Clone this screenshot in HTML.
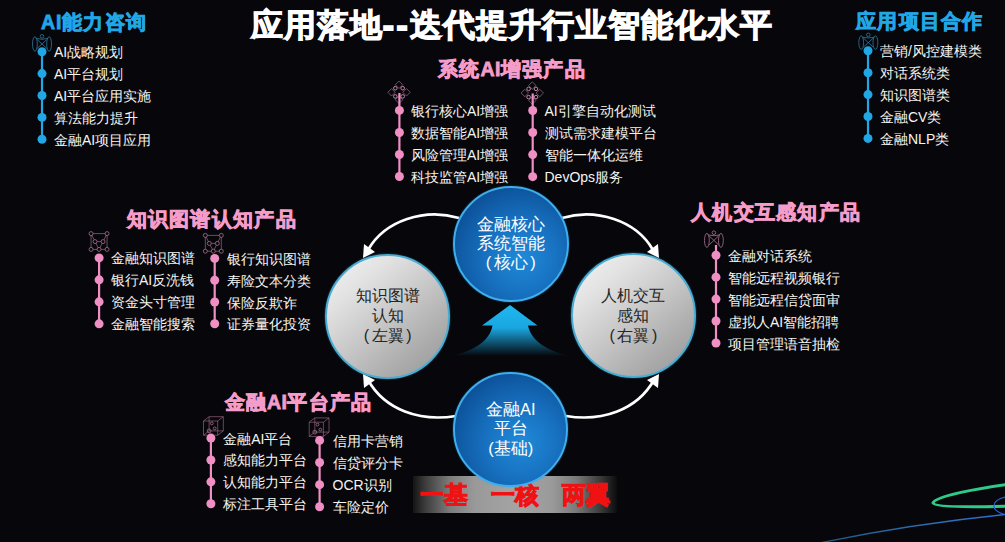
<!DOCTYPE html>
<html><head><meta charset="utf-8"><style>
html,body{margin:0;padding:0;width:1005px;height:542px;overflow:hidden;background:#07060b;font-family:"Liberation Sans", sans-serif}
.t{position:absolute;font-weight:bold;white-space:nowrap;line-height:1.2;-webkit-text-stroke:0.8px currentColor}
.it{position:absolute;color:#f5f5f0;white-space:nowrap;line-height:18px;font-weight:500}
.ln,.dot{position:absolute}
.dot{border-radius:50%}
.ic{position:absolute}
.c{position:absolute;border-radius:50%;box-sizing:border-box;display:flex;align-items:center;justify-content:center;text-align:center}
.bl{border:2px solid #3eaeec;box-shadow:0 0 2px rgba(60,170,235,0.5);background:radial-gradient(circle at 60% 62%,#1f8ad8 0%,#1873c2 35%,#0f58a2 68%,#0a4689 88%,#0b4a90 95%,#1560aa 100%)}
.gr{border:2px solid #4aaed4;box-shadow:0 0 2px rgba(70,170,210,0.6);background:radial-gradient(circle at 50% 50%,rgba(0,0,0,0) 80%,rgba(0,0,0,0.12) 100%),linear-gradient(140deg,#f4f4f4 0%,#e2e2e2 25%,#c8c8c8 50%,#b0b0b0 72%,#959595 100%)}
.ct{font-size:16.5px;line-height:19.3px}
.pp{margin:0 2.5px}
.bl .ct{color:#fff}
.gr .ct{color:#262626;font-size:16px;line-height:20px;font-weight:350}
</style></head><body>
<div class="t" style="left:251px;top:6px;font-size:32px;letter-spacing:1.0px;color:#fff;-webkit-text-stroke:1.1px #fff">应用落地<span style="letter-spacing:3px;-webkit-text-stroke:2.2px #fff">--</span>迭代提升行业智能化水平</div>
<div class="t" style="left:41px;top:10.5px;font-size:19.5px;letter-spacing:1.3px;color:#21a6e6"><span style="letter-spacing:0.8px">AI</span>能力咨询</div>
<div class="it" style="left:54px;top:43.2px;font-size:14px">AI战略规划</div>
<div class="it" style="left:54px;top:65.1px;font-size:14px">AI平台规划</div>
<div class="it" style="left:54px;top:87.0px;font-size:14px">AI平台应用实施</div>
<div class="it" style="left:54px;top:108.89999999999999px;font-size:14px">算法能力提升</div>
<div class="it" style="left:54px;top:130.8px;font-size:14px">金融AI项目应用</div>
<div class="t" style="left:856px;top:9.5px;font-size:19.5px;letter-spacing:1.3px;color:#21a6e6">应用项目合作</div>
<div class="it" style="left:880px;top:42.3px;font-size:14px">营销/风控建模类</div>
<div class="it" style="left:880px;top:64.19999999999999px;font-size:14px">对话系统类</div>
<div class="it" style="left:880px;top:86.1px;font-size:14px">知识图谱类</div>
<div class="it" style="left:880px;top:107.99999999999999px;font-size:14px">金融CV类</div>
<div class="it" style="left:880px;top:129.89999999999998px;font-size:14px">金融NLP类</div>
<div class="t" style="left:438px;top:58px;font-size:19.5px;letter-spacing:1.3px;color:#f49cca">系统<span style="letter-spacing:0.3px">AI</span>增强产品</div>
<div class="it" style="left:411px;top:101.9px;font-size:14px">银行核心AI增强</div>
<div class="it" style="left:411px;top:123.95000000000002px;font-size:14px">数据智能AI增强</div>
<div class="it" style="left:411px;top:146.0px;font-size:14px">风险管理AI增强</div>
<div class="it" style="left:411px;top:168.05px;font-size:14px">科技监管AI增强</div>
<div class="it" style="left:544.5px;top:102.0px;font-size:14px">AI引擎自动化测试</div>
<div class="it" style="left:544.5px;top:124.05000000000001px;font-size:14px">测试需求建模平台</div>
<div class="it" style="left:544.5px;top:146.1px;font-size:14px">智能一体化运维</div>
<div class="it" style="left:544.5px;top:168.15px;font-size:14px">DevOps服务</div>
<div class="t" style="left:126.5px;top:207.5px;font-size:19.5px;letter-spacing:1.3px;color:#f49cca">知识图谱认知产品</div>
<div class="it" style="left:111px;top:249.39999999999998px;font-size:14px">金融知识图谱</div>
<div class="it" style="left:111px;top:271.37px;font-size:14px">银行AI反洗钱</div>
<div class="it" style="left:111px;top:293.34px;font-size:14px">资金头寸管理</div>
<div class="it" style="left:111px;top:315.30999999999995px;font-size:14px">金融智能搜索</div>
<div class="it" style="left:226.7px;top:249.89999999999998px;font-size:14px">银行知识图谱</div>
<div class="it" style="left:226.7px;top:271.7px;font-size:14px">寿险文本分类</div>
<div class="it" style="left:226.7px;top:293.5px;font-size:14px">保险反欺诈</div>
<div class="it" style="left:226.7px;top:315.29999999999995px;font-size:14px">证券量化投资</div>
<div class="t" style="left:691px;top:200.5px;font-size:19.5px;letter-spacing:1.3px;color:#f49cca">人机交互感知产品</div>
<div class="it" style="left:728px;top:246.7px;font-size:14px">金融对话系统</div>
<div class="it" style="left:728px;top:268.65px;font-size:14px">智能远程视频银行</div>
<div class="it" style="left:728px;top:290.59999999999997px;font-size:14px">智能远程信贷面审</div>
<div class="it" style="left:728px;top:312.54999999999995px;font-size:14px">虚拟人AI智能招聘</div>
<div class="it" style="left:728px;top:334.5px;font-size:14px">项目管理语音抽检</div>
<div class="t" style="left:224.5px;top:391px;font-size:19.5px;letter-spacing:1.3px;color:#f49cca">金融<span style="letter-spacing:0.3px">AI</span>平台产品</div>
<div class="it" style="left:223.2px;top:429.6px;font-size:14px">金融AI平台</div>
<div class="it" style="left:223.2px;top:451.47px;font-size:14px">感知能力平台</div>
<div class="it" style="left:223.2px;top:473.34000000000003px;font-size:14px">认知能力平台</div>
<div class="it" style="left:223.2px;top:495.21000000000004px;font-size:14px">标注工具平台</div>
<div class="it" style="left:332.5px;top:431.9px;font-size:14px">信用卡营销</div>
<div class="it" style="left:332.5px;top:454.03px;font-size:14px">信贷评分卡</div>
<div class="it" style="left:332.5px;top:476.15999999999997px;font-size:14px">OCR识别</div>
<div class="it" style="left:332.5px;top:498.28999999999996px;font-size:14px">车险定价</div>
<div style="position:absolute;left:413px;top:475.7px;width:204px;height:37px;background:linear-gradient(90deg,#141414 0%,#3c3c3c 6%,#7c7c7c 18%,#999 30%,#a4a4a4 50%,#9a9a9a 68%,#7a7a7a 80%,#3a3a3a 92%,#0c0c0c 100%)"></div>
<div class="t" style="left:420px;top:481.2px;font-size:23.6px;font-weight:900;color:#f01212;white-space:pre;-webkit-text-stroke:1px #f01212;letter-spacing:-0.3px">一基　一核　两翼</div>
<svg style="position:absolute;left:0;top:0" width="1005" height="542" viewBox="0 0 1005 542">
<defs>
<linearGradient id="ag" x1="0" y1="0" x2="0" y2="1">
<stop offset="0" stop-color="#1fb8f0"/><stop offset="0.45" stop-color="#1aa6e0"/><stop offset="1" stop-color="#06070c"/>
</linearGradient>
<linearGradient id="bl" gradientUnits="userSpaceOnUse" x1="810" y1="0" x2="1005" y2="0"><stop offset="0" stop-color="#1d5a7a"/><stop offset="0.6" stop-color="#2a6cb0"/><stop offset="1" stop-color="#2d70d0"/></linearGradient>
</defs>
<g fill="none" stroke="#fff" stroke-width="2.6">
<path d="M459 218 C425 208 385 220 368 250"/>
<path d="M562 218 C596 208 636 220 653 250"/>
<path d="M456 416 C420 422 385 410 368 380"/>
<path d="M566 416 C602 422 637 410 654 380"/>
</g>
<g fill="#fff">
<path d="M363 258 L364 244 L375 252 Z"/>
<path d="M659 258 L658 244 L647 252 Z"/>
<path d="M363 374 L364 388 L375 380 Z"/>
<path d="M659 374 L658 388 L647 380 Z"/>
</g>
<path d="M510 305 L537.5 325.5 L528 325.5 C531 340 545 350 569 356 L452 356 C476 350 490 340 492.5 325.5 L482 325.5 Z" fill="url(#ag)"/>
<g fill="none" stroke-linecap="round">
<path d="M1010 484 C980 488 935 496 933 503 C935 508 980 507 1010 506" stroke="#2fc98a" stroke-width="3"/>
<path d="M810 545 C880 530 950 520 1010 514" stroke="url(#bl)" stroke-width="1.3"/>
<path d="M1006 497 C992 500 988 510 1006 515" stroke="#2a5fd0" stroke-width="1.2"/>
</g>
<g fill="none" stroke="#2c7196" stroke-width="0.85">
<circle cx="42" cy="36.3" r="1.8"/>
<ellipse cx="34.9" cy="44.0" rx="2.4" ry="7.2"/><ellipse cx="49.1" cy="44.0" rx="2.4" ry="7.2"/>
<path d="M35.9 38.3 L42 39.3 L48.1 38.3 M37.1 39.5 L46.9 48.5 M46.9 39.5 L37.1 48.5"/>
</g>
<g fill="none" stroke="#2c7196" stroke-width="0.85">
<circle cx="868.3" cy="34.9" r="1.8"/>
<ellipse cx="861.1999999999999" cy="42.6" rx="2.4" ry="6.8"/><ellipse cx="875.4" cy="42.6" rx="2.4" ry="6.8"/>
<path d="M862.1999999999999 37.300000000000004 L868.3 37.9 L874.4 37.300000000000004 M863.4 38.1 L873.1999999999999 47.1 M873.1999999999999 38.1 L863.4 47.1"/>
</g>
<g fill="none" stroke-width="0.85"><path d="M399 81.1 L402.7 84.8 L399 88.5 L395.3 84.8 Z M391.5 88.6 L395.2 92.3 L391.5 96.0 L387.8 92.3 Z M406.5 88.6 L410.2 92.3 L406.5 96.0 L402.8 92.3 Z M399 96.1 L402.7 99.8 L399 103.5 L395.3 99.8 Z" stroke="#7c6070"/><g stroke="#c482a8" stroke-width="1"><circle cx="395.3" cy="88.2" r="1.8"/><circle cx="395.3" cy="96.39999999999999" r="1.8"/><circle cx="402.7" cy="88.2" r="1.8"/><circle cx="402.7" cy="96.39999999999999" r="1.8"/></g></g>
<g fill="none" stroke-width="0.85"><path d="M532.3 81.8 L536.0 85.5 L532.3 89.2 L528.5999999999999 85.5 Z M524.8 89.3 L528.5 93 L524.8 96.7 L521.0999999999999 93 Z M539.8 89.3 L543.5 93 L539.8 96.7 L536.0999999999999 93 Z M532.3 96.8 L536.0 100.5 L532.3 104.2 L528.5999999999999 100.5 Z" stroke="#7c6070"/><g stroke="#c482a8" stroke-width="1"><circle cx="528.5999999999999" cy="88.9" r="1.8"/><circle cx="528.5999999999999" cy="97.1" r="1.8"/><circle cx="536.0" cy="88.9" r="1.8"/><circle cx="536.0" cy="97.1" r="1.8"/></g></g>
<g fill="none" stroke="#a06c8a" stroke-width="0.85"><path d="M91.05 233.6 L107.05 233.6 M91.05 233.6 L91.05 249.4 M107.05 233.6 L107.05 249.4 M91.05 249.4 L107.05 249.4 M91.05 233.6 L95.05 241.6 M95.05 241.6 L99.05 249.4 M99.05 249.4 L103.05 241.6 M103.05 241.6 L107.05 233.6 M95.05 241.6 L103.05 241.6" opacity="0.8"/><g fill="#07060b"><circle cx="91.05" cy="233.6" r="2"/><circle cx="107.05" cy="233.6" r="2"/><circle cx="95.05" cy="241.6" r="2"/><circle cx="103.05" cy="241.6" r="2"/><circle cx="91.05" cy="249.4" r="2"/><circle cx="99.05" cy="249.4" r="2"/><circle cx="107.05" cy="249.4" r="2"/></g></g>
<g fill="none" stroke="#a06c8a" stroke-width="0.85"><path d="M205.3 235.4 L221.3 235.4 M205.3 235.4 L205.3 251.20000000000002 M221.3 235.4 L221.3 251.20000000000002 M205.3 251.20000000000002 L221.3 251.20000000000002 M205.3 235.4 L209.3 243.4 M209.3 243.4 L213.3 251.20000000000002 M213.3 251.20000000000002 L217.3 243.4 M217.3 243.4 L221.3 235.4 M209.3 243.4 L217.3 243.4" opacity="0.8"/><g fill="#07060b"><circle cx="205.3" cy="235.4" r="2"/><circle cx="221.3" cy="235.4" r="2"/><circle cx="209.3" cy="243.4" r="2"/><circle cx="217.3" cy="243.4" r="2"/><circle cx="205.3" cy="251.20000000000002" r="2"/><circle cx="213.3" cy="251.20000000000002" r="2"/><circle cx="221.3" cy="251.20000000000002" r="2"/></g></g>
<g fill="none" stroke="#a06c8a" stroke-width="0.85">
<circle cx="713.9" cy="232.7" r="1.8"/>
<ellipse cx="706.9" cy="240.39999999999998" rx="2.4" ry="7.0"/><ellipse cx="720.9" cy="240.39999999999998" rx="2.4" ry="7.0"/>
<path d="M707.9 234.89999999999998 L713.9 235.7 L719.9 234.89999999999998 M709.1 235.89999999999998 L718.6999999999999 244.89999999999998 M718.6999999999999 235.89999999999998 L709.1 244.89999999999998"/>
</g>
<g fill="none" stroke="#a06c8a" stroke-width="0.85"><path d="M203.5 421 H217.7 V435.2 H203.5 Z M203.5 421 L209.1 416.7 H223.29999999999998 L217.7 421 M223.29999999999998 416.7 V430.9 L217.7 435.2 M209.1 416.7 V430.9 H223.29999999999998 M203.5 435.2 L209.1 430.9" opacity="0.75"/><circle cx="211.8" cy="423.4" r="1.4"/><circle cx="214.7" cy="428.4" r="1.4"/><circle cx="209.1" cy="430.9" r="1.9"/></g>
<g fill="none" stroke="#a06c8a" stroke-width="0.85"><path d="M309.2 422.2 H323.4 V436.4 H309.2 Z M309.2 422.2 L314.8 417.9 H329.0 L323.4 422.2 M329.0 417.9 V432.09999999999997 L323.4 436.4 M314.8 417.9 V432.09999999999997 H329.0 M309.2 436.4 L314.8 432.09999999999997" opacity="0.75"/><circle cx="317.5" cy="424.59999999999997" r="1.4"/><circle cx="320.4" cy="429.59999999999997" r="1.4"/><circle cx="314.8" cy="432.09999999999997" r="1.9"/></g><line x1="42.0" y1="51.7" x2="42.0" y2="139.3" stroke="#21a6e6" stroke-width="2.2"/>
<circle cx="42.0" cy="51.7" r="4.5" fill="#21a6e6"/>
<circle cx="42.0" cy="73.6" r="4.5" fill="#21a6e6"/>
<circle cx="42.0" cy="95.5" r="4.5" fill="#21a6e6"/>
<circle cx="42.0" cy="117.39999999999999" r="4.5" fill="#21a6e6"/>
<circle cx="42.0" cy="139.3" r="4.5" fill="#21a6e6"/>
<line x1="868" y1="50.8" x2="868" y2="138.39999999999998" stroke="#21a6e6" stroke-width="2.2"/>
<circle cx="868" cy="50.8" r="4.5" fill="#21a6e6"/>
<circle cx="868" cy="72.69999999999999" r="4.5" fill="#21a6e6"/>
<circle cx="868" cy="94.6" r="4.5" fill="#21a6e6"/>
<circle cx="868" cy="116.49999999999999" r="4.5" fill="#21a6e6"/>
<circle cx="868" cy="138.39999999999998" r="4.5" fill="#21a6e6"/>
<line x1="399.4" y1="93" x2="399.4" y2="176.55" stroke="#f08fc4" stroke-width="2.2"/>
<circle cx="399.4" cy="110.4" r="4.5" fill="#f08fc4"/>
<circle cx="399.4" cy="132.45000000000002" r="4.5" fill="#f08fc4"/>
<circle cx="399.4" cy="154.5" r="4.5" fill="#f08fc4"/>
<circle cx="399.4" cy="176.55" r="4.5" fill="#f08fc4"/>
<line x1="532.7" y1="93.5" x2="532.7" y2="176.65" stroke="#f08fc4" stroke-width="2.2"/>
<circle cx="532.7" cy="110.5" r="4.5" fill="#f08fc4"/>
<circle cx="532.7" cy="132.55" r="4.5" fill="#f08fc4"/>
<circle cx="532.7" cy="154.6" r="4.5" fill="#f08fc4"/>
<circle cx="532.7" cy="176.65" r="4.5" fill="#f08fc4"/>
<line x1="99.1" y1="257.9" x2="99.1" y2="323.80999999999995" stroke="#f08fc4" stroke-width="2.2"/>
<circle cx="99.1" cy="257.9" r="4.5" fill="#f08fc4"/>
<circle cx="99.1" cy="279.87" r="4.5" fill="#f08fc4"/>
<circle cx="99.1" cy="301.84" r="4.5" fill="#f08fc4"/>
<circle cx="99.1" cy="323.80999999999995" r="4.5" fill="#f08fc4"/>
<line x1="214.7" y1="258.4" x2="214.7" y2="323.79999999999995" stroke="#f08fc4" stroke-width="2.2"/>
<circle cx="214.7" cy="258.4" r="4.5" fill="#f08fc4"/>
<circle cx="214.7" cy="280.2" r="4.5" fill="#f08fc4"/>
<circle cx="214.7" cy="302.0" r="4.5" fill="#f08fc4"/>
<circle cx="214.7" cy="323.79999999999995" r="4.5" fill="#f08fc4"/>
<line x1="716" y1="245" x2="716" y2="343.0" stroke="#f08fc4" stroke-width="2.2"/>
<circle cx="716" cy="255.2" r="4.5" fill="#f08fc4"/>
<circle cx="716" cy="277.15" r="4.5" fill="#f08fc4"/>
<circle cx="716" cy="299.09999999999997" r="4.5" fill="#f08fc4"/>
<circle cx="716" cy="321.04999999999995" r="4.5" fill="#f08fc4"/>
<circle cx="716" cy="343.0" r="4.5" fill="#f08fc4"/>
<line x1="210.9" y1="438.1" x2="210.9" y2="503.71000000000004" stroke="#f08fc4" stroke-width="2.2"/>
<circle cx="210.9" cy="438.1" r="4.5" fill="#f08fc4"/>
<circle cx="210.9" cy="459.97" r="4.5" fill="#f08fc4"/>
<circle cx="210.9" cy="481.84000000000003" r="4.5" fill="#f08fc4"/>
<circle cx="210.9" cy="503.71000000000004" r="4.5" fill="#f08fc4"/>
<line x1="319.6" y1="440.4" x2="319.6" y2="506.78999999999996" stroke="#f08fc4" stroke-width="2.2"/>
<circle cx="319.6" cy="440.4" r="4.5" fill="#f08fc4"/>
<circle cx="319.6" cy="462.53" r="4.5" fill="#f08fc4"/>
<circle cx="319.6" cy="484.65999999999997" r="4.5" fill="#f08fc4"/>
<circle cx="319.6" cy="506.78999999999996" r="4.5" fill="#f08fc4"/>
</svg>
<div class="c bl" style="left:452.7px;top:185.5px;width:116px;height:116px"><div class="ct">金融核心<br>系统智能<br>(<span class="pp">核心</span>)</div></div>
<div class="c bl" style="left:453.2px;top:371.5px;width:115px;height:115px"><div class="ct">金融AI<br>平台<br>(基础)</div></div>
<div class="c gr" style="left:325.2px;top:253.5px;width:125px;height:125px"><div class="ct">知识图谱<br>认知<br>(<span class="pp">左翼</span>)</div></div>
<div class="c gr" style="left:570.9px;top:253.2px;width:125px;height:125px"><div class="ct">人机交互<br>感知<br>(<span class="pp">右翼</span>)</div></div>
</body></html>
